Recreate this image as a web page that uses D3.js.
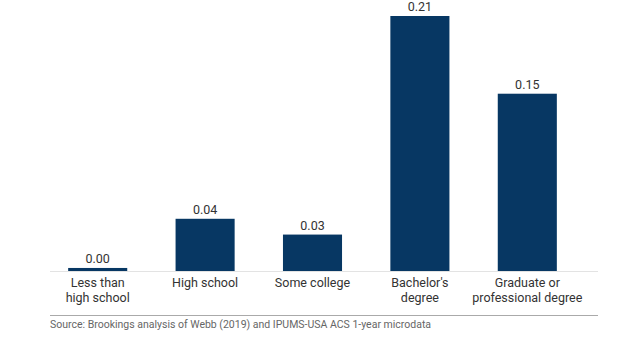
<!DOCTYPE html>
<html><head><meta charset="utf-8">
<script src="https://cdn.jsdelivr.net/npm/d3@7"></script>
<style>body{margin:0;background:#fff;}svg{display:block;font-family:Roboto, "Open Sans", sans-serif;}</style>
</head><body>
<svg id="c" width="620" height="337"></svg>
<script>
const categories = [["Less than","high school"],["High school"],["Some college"],["Bachelor's","degree"],["Graduate or","professional degree"]];
const values = [0.0025, 0.043, 0.030, 0.210, 0.146];
const sourceText = "Source: Brookings analysis of Webb (2019) and IPUMS-USA ACS 1-year microdata";

const svg = d3.select("#c");
const ids = d3.range(categories.length);
const x = d3.scaleBand().domain(ids).range([44, 581]).paddingInner(0.45).paddingOuter(0.225);
const y = d3.scaleLinear().domain([0, 0.21]).range([271, 16]);
const fmt = d3.format(".2f");

svg.append("line").attr("x1", 50).attr("x2", 598).attr("y1", 271.5).attr("y2", 271.5)
  .attr("stroke", "#e3e3e3").attr("stroke-width", 1);

svg.selectAll("rect.bar").data(values).join("rect").attr("class","bar")
  .attr("x", (d,i) => x(i)).attr("width", x.bandwidth())
  .attr("y", d => y(d)).attr("height", d => y(0) - y(d))
  .attr("fill", "#073763");

svg.selectAll("text.val").data(values).join("text").attr("class","val")
  .attr("x", (d,i) => x(i) + x.bandwidth()/2).attr("y", d => y(d) - 5)
  .attr("text-anchor", "middle").attr("font-size", 12.5).attr("fill", "#333")
  .text(d => fmt(d));

const cat = svg.selectAll("text.cat").data(categories).join("text").attr("class","cat")
  .attr("x", (d,i) => x(i) + x.bandwidth()/2).attr("y", 287)
  .attr("text-anchor", "middle").attr("font-size", 12.5).attr("fill", "#333");
cat.selectAll("tspan").data(d => d).join("tspan")
  .attr("x", function(){ return this.parentNode.getAttribute("x"); })
  .attr("dy", (d,i) => i === 0 ? 0 : 15).text(d => d);

svg.append("line").attr("x1", 50).attr("x2", 598).attr("y1", 315.5).attr("y2", 315.5)
  .attr("stroke", "#aaa").attr("stroke-width", 1);
svg.append("text").attr("x", 50).attr("y", 328).attr("font-size", 10.5).attr("fill", "#666")
  .text(sourceText);
</script>
</body></html>
